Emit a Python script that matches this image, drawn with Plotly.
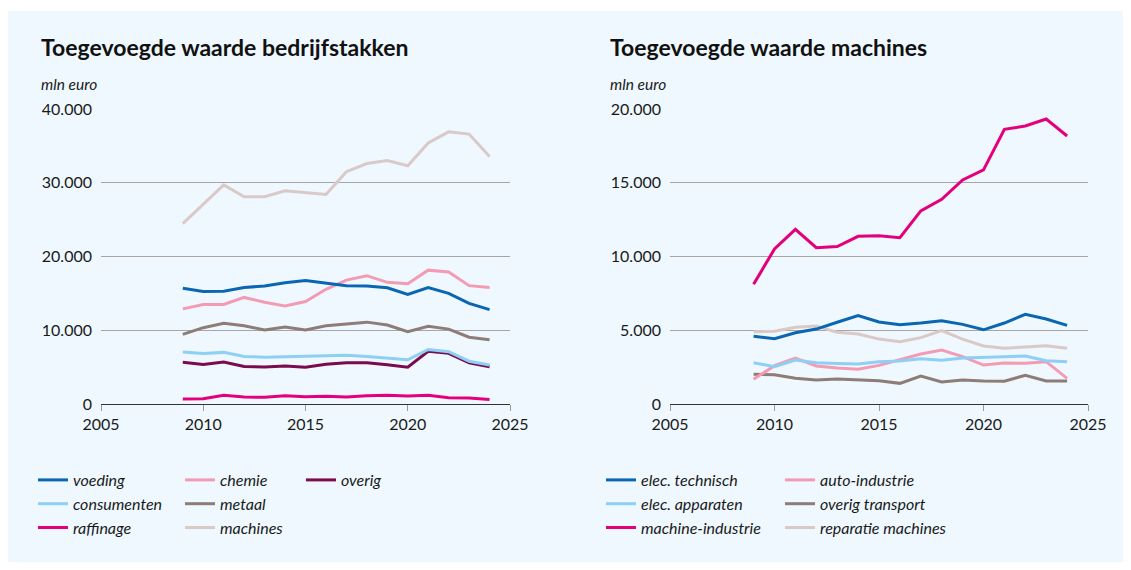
import plotly.graph_objects as go

# The page body adds an 8px margin on every side, so the figure is sized to fit the window.
OFF = 8
W, H = 1131 - 2 * OFF, 570 - 2 * OFF

years = list(range(2009, 2025))

# Left chart: value added per sector (mln euro)
left_names = ["voeding", "consumenten", "raffinage", "chemie", "metaal", "machines", "overig"]
voeding = [15700, 15250, 15300, 15800, 16000, 16450, 16750, 16400, 16050, 16000, 15750, 14850, 15800, 15000, 13650, 12800]
consumenten = [7050, 6850, 7000, 6450, 6350, 6400, 6420, 6500, 6600, 6450, 6250, 6000, 7400, 7100, 5800, 5300]
raffinage = [680, 720, 1180, 950, 900, 1130, 1000, 1040, 950, 1130, 1180, 1080, 1180, 860, 820, 600]
chemie = [12900, 13500, 13500, 14450, 13800, 13300, 13900, 15550, 16800, 17400, 16500, 16300, 18150, 17900, 16050, 15800]
metaal = [9450, 10350, 10950, 10600, 10050, 10450, 10050, 10600, 10850, 11100, 10700, 9800, 10550, 10150, 9050, 8700]
machines = [24450, 27100, 29700, 28100, 28100, 28900, 28700, 28400, 31500, 32600, 33000, 32300, 35400, 36900, 36600, 33550]
overig = [5650, 5350, 5700, 5100, 5020, 5150, 4980, 5380, 5600, 5600, 5330, 4980, 7150, 6870, 5600, 5060]

# Right chart: value added machines (mln euro)
right_names = ["elec. technisch", "elec. apparaten", "machine-industrie",
               "auto-industrie", "overig transport", "reparatie machines"]
elec_technisch = [4600, 4420, 4830, 5080, 5540, 5990, 5560, 5380, 5490, 5650, 5400, 5030, 5490, 6080, 5760, 5330]
elec_apparaten = [2800, 2530, 2980, 2800, 2740, 2710, 2870, 2910, 3070, 2960, 3120, 3190, 3210, 3250, 2940, 2870]
machine_industrie = [8120, 10510, 11840, 10600, 10670, 11370, 11410, 11280, 13090, 13880, 15190, 15870, 18620, 18850, 19320, 18170]
auto_industrie = [1670, 2600, 3120, 2580, 2440, 2350, 2620, 3030, 3390, 3660, 3210, 2640, 2780, 2760, 2870, 1740]
overig_transport = [2010, 1990, 1740, 1630, 1700, 1630, 1580, 1400, 1900, 1490, 1630, 1560, 1540, 1950, 1560, 1560]
reparatie_machines = [4900, 4930, 5200, 5290, 4860, 4750, 4400, 4220, 4500, 4970, 4400, 3930, 3780, 3890, 3950, 3780]

x_ticks = [2005, 2010, 2015, 2020, 2025]

DARKBLUE = "#0B66B2"
LIGHTBLUE = "#8ECFF6"
MAGENTA = "#E4007C"
PINK = "#F49BB4"
TAUPE = "#8E7C77"
LIGHTGREY = "#D9C9C7"
MAROON = "#7B0A4E"
BG = "#EEF8FE"
FONT = "Lato"

fig = go.Figure()

left_series = [
    ("machines", machines, LIGHTGREY, "legend2"),
    ("metaal", metaal, TAUPE, "legend2"),
    ("chemie", chemie, PINK, "legend2"),
    ("voeding", voeding, DARKBLUE, "legend"),
    ("overig", overig, MAROON, "legend3"),
    ("consumenten", consumenten, LIGHTBLUE, "legend"),
    ("raffinage", raffinage, MAGENTA, "legend"),
]
left_rank = {n: i for i, n in enumerate(left_names)}
for name, vals, col, lg in left_series:
    fig.add_trace(go.Scatter(x=years, y=vals, name=name, mode="lines",
                             line=dict(color=col, width=3), xaxis="x", yaxis="y",
                             legend=lg, legendrank=left_rank[name]))

right_series = [
    ("reparatie machines", reparatie_machines, LIGHTGREY, "legend5"),
    ("overig transport", overig_transport, TAUPE, "legend5"),
    ("auto-industrie", auto_industrie, PINK, "legend5"),
    ("elec. apparaten", elec_apparaten, LIGHTBLUE, "legend4"),
    ("elec. technisch", elec_technisch, DARKBLUE, "legend4"),
    ("machine-industrie", machine_industrie, MAGENTA, "legend4"),
]
right_rank = {n: i for i, n in enumerate(right_names)}
for name, vals, col, lg in right_series:
    fig.add_trace(go.Scatter(x=years, y=vals, name=name, mode="lines",
                             line=dict(color=col, width=3), xaxis="x2", yaxis="y2",
                             legend=lg, legendrank=right_rank[name]))

# helpers: convert page pixel coordinates (as seen in the window) to paper fractions
def px_x(p):
    return (p - OFF) / W

def px_y(p):
    return 1 - (p - OFF) / H

tickfont = dict(family=FONT, size=16, color="#1a1a1a")
xcommon = dict(range=[2005, 2025], tickvals=x_ticks, ticks="outside", ticklen=6,
               tickcolor="#9a9a9a", showline=True, linecolor="#333333", linewidth=1,
               showgrid=False, zeroline=False, tickfont=tickfont, fixedrange=True,
               automargin=False)
ycommon = dict(showgrid=True, gridcolor="#a6a6a6", gridwidth=1, zeroline=False,
               showline=False, ticks="", tickformat=",d", tickfont=tickfont,
               ticklabelstandoff=8, fixedrange=True, automargin=False)

legfont = dict(family=FONT, size=16, color="#1a1a1a", style="italic")

def leg(text_x, row_y):
    # legend text starts 40px right of the legend's left edge; first row centre ~17px below top
    return dict(x=px_x(text_x - 40), y=px_y(row_y - 17), xanchor="left", yanchor="top",
                orientation="v", bgcolor="rgba(0,0,0,0)", font=legfont,
                tracegroupgap=0, itemclick=False, itemdoubleclick=False)

def ann(text, x, y, size, color="#111111"):
    return dict(text=text, x=px_x(x - 2), y=px_y(y), xref="paper", yref="paper",
                xanchor="left", yanchor="middle", showarrow=False,
                font=dict(family=FONT, size=size, color=color))

fig.update_layout(
    width=W, height=H,
    autosize=False,
    margin=dict(l=0, r=0, t=0, b=0, pad=0, autoexpand=False),
    paper_bgcolor=BG,
    plot_bgcolor="rgba(0,0,0,0)",
    separators=",.",
    showlegend=True,
    xaxis=dict(domain=[px_x(101), px_x(510)], anchor="y", **xcommon),
    yaxis=dict(domain=[px_y(404), px_y(109)], anchor="x", range=[0, 40000],
               tickvals=[0, 10000, 20000, 30000, 40000], **ycommon),
    xaxis2=dict(domain=[px_x(670), px_x(1088)], anchor="y2", **xcommon),
    yaxis2=dict(domain=[px_y(404), px_y(109)], anchor="x2", range=[0, 20000],
                tickvals=[0, 5000, 10000, 15000, 20000], **ycommon),
    legend=leg(73, 480),
    legend2=leg(220, 480),
    legend3=leg(341, 480),
    legend4=leg(641, 480),
    legend5=leg(820, 480),
    shapes=[dict(type="rect", xref="paper", yref="paper", x0=-0.01, x1=1.01,
                 y0=px_y(11), y1=1.01, fillcolor="white", line=dict(width=0), layer="below")],
    annotations=[
        ann("<b>Toegevoegde waarde bedrijfstakken</b>", 41, 47, 23),
        ann("<b>Toegevoegde waarde machines</b>", 610, 47, 23),
        ann("<i>mln euro</i>", 41, 84, 15.5, "#1a1a1a"),
        ann("<i>mln euro</i>", 610, 84, 15.5, "#1a1a1a"),
    ],
)

fig.write_html("out.html")
